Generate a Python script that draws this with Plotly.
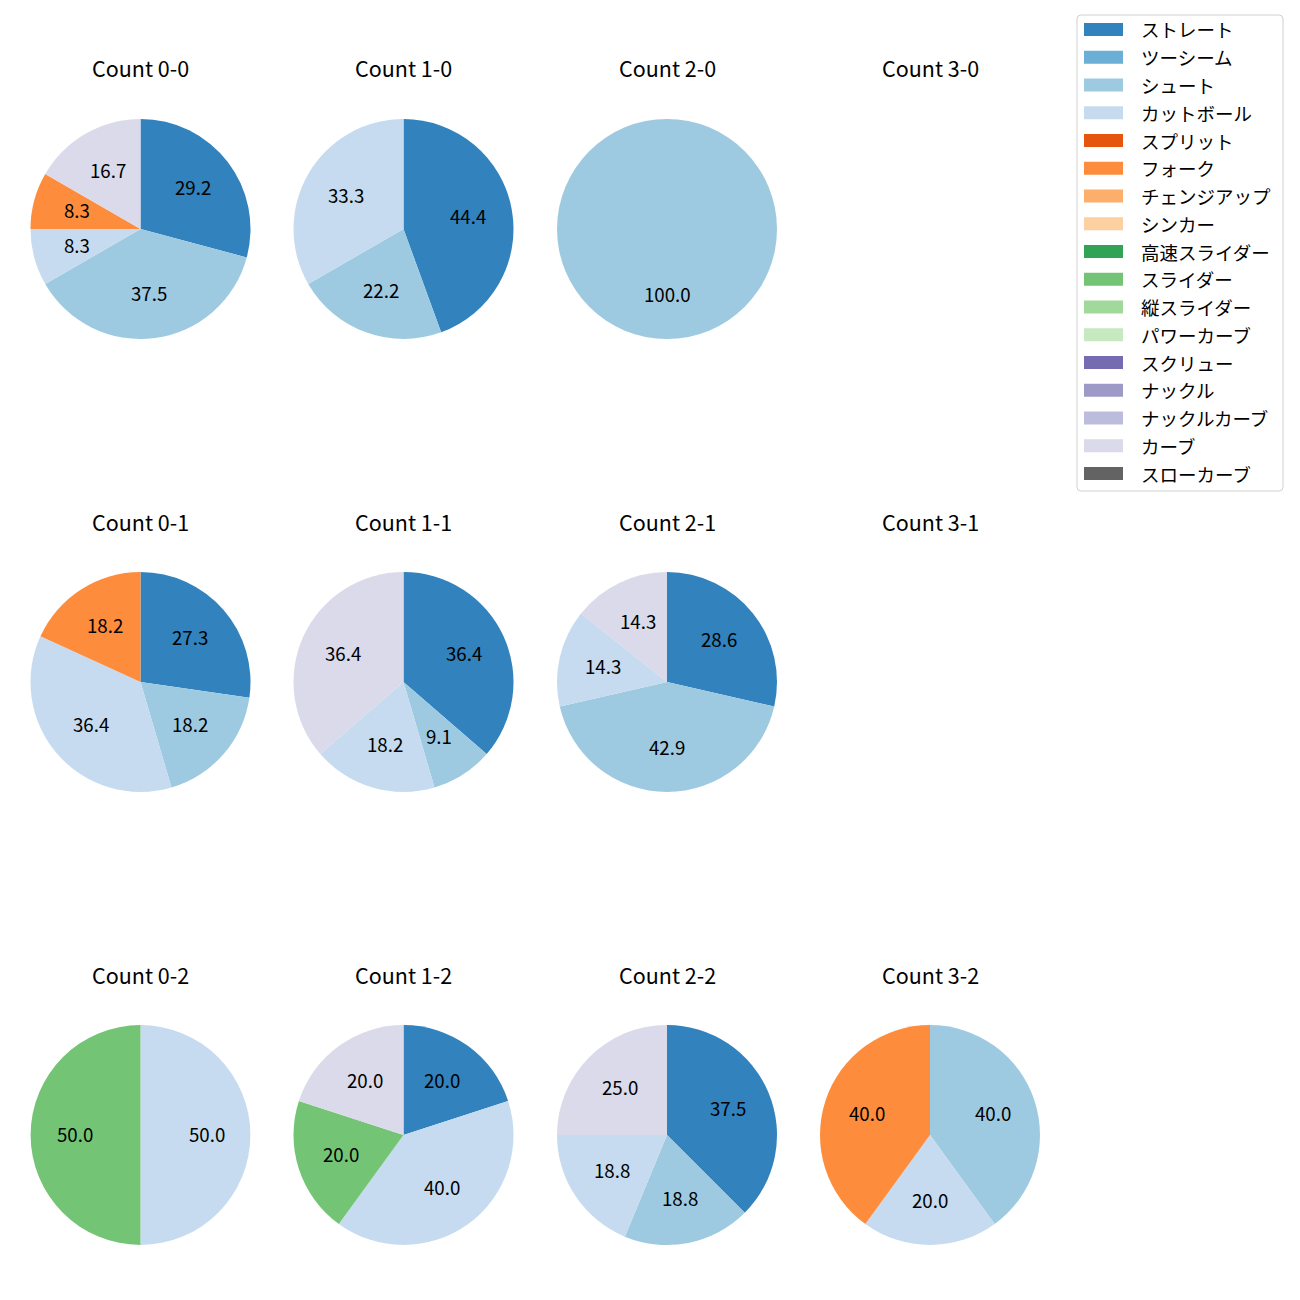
import math
import plotly.graph_objects as go

# ---- data ----
pitch_types = ["ストレート", "ツーシーム", "シュート", "カットボール", "スプリット", "フォーク",
               "チェンジアップ", "シンカー", "高速スライダー", "スライダー", "縦スライダー",
               "パワーカーブ", "スクリュー", "ナックル", "ナックルカーブ", "カーブ", "スローカーブ"]
pitch_colors = ["#3182bd", "#6baed6", "#9ecae1", "#c6dbef", "#e6550d", "#fd8d3c",
                "#fdae6b", "#fdd0a2", "#31a354", "#74c476", "#a1d99b", "#c7e9c0",
                "#756bb1", "#9e9ac8", "#bcbddc", "#dadaeb", "#636363"]

count_labels = ["0-0", "1-0", "2-0", "3-0",
                "0-1", "1-1", "2-1", "3-1",
                "0-2", "1-2", "2-2", "3-2"]

#            St Tw Sh Cu Sp Fo Ch Si HS Sl VS PC Sc Kn KC Cv SC
vals_0_0 = [7, 0, 9, 2, 0, 2, 0, 0, 0, 0, 0, 0, 0, 0, 0, 4, 0]
vals_1_0 = [4, 0, 2, 3, 0, 0, 0, 0, 0, 0, 0, 0, 0, 0, 0, 0, 0]
vals_2_0 = [0, 0, 1, 0, 0, 0, 0, 0, 0, 0, 0, 0, 0, 0, 0, 0, 0]
vals_3_0 = [0, 0, 0, 0, 0, 0, 0, 0, 0, 0, 0, 0, 0, 0, 0, 0, 0]
vals_0_1 = [3, 0, 2, 4, 0, 2, 0, 0, 0, 0, 0, 0, 0, 0, 0, 0, 0]
vals_1_1 = [4, 0, 1, 2, 0, 0, 0, 0, 0, 0, 0, 0, 0, 0, 0, 4, 0]
vals_2_1 = [2, 0, 3, 1, 0, 0, 0, 0, 0, 0, 0, 0, 0, 0, 0, 1, 0]
vals_3_1 = [0, 0, 0, 0, 0, 0, 0, 0, 0, 0, 0, 0, 0, 0, 0, 0, 0]
vals_0_2 = [0, 0, 0, 1, 0, 0, 0, 0, 0, 1, 0, 0, 0, 0, 0, 0, 0]
vals_1_2 = [1, 0, 0, 2, 0, 0, 0, 0, 0, 1, 0, 0, 0, 0, 0, 1, 0]
vals_2_2 = [6, 0, 3, 3, 0, 0, 0, 0, 0, 0, 0, 0, 0, 0, 0, 4, 0]
vals_3_2 = [0, 0, 2, 1, 0, 2, 0, 0, 0, 0, 0, 0, 0, 0, 0, 0, 0]

all_vals = [vals_0_0, vals_1_0, vals_2_0, vals_3_0,
            vals_0_1, vals_1_1, vals_2_1, vals_3_1,
            vals_0_2, vals_1_2, vals_2_2, vals_3_2]

# ---- layout ----
W = H = 1300
FONT = "Noto Sans CJK JP"
col_cx = [140.5, 403.5, 667, 930]
row_cy = [229, 682, 1135]
R = 110

fig = go.Figure()
annotations = []
shapes = []

def px(x):
    return x / W

def py(y):
    return 1 - y / H

for i, (lab, vals) in enumerate(zip(count_labels, all_vals)):
    r, c = divmod(i, 4)
    cx, cy = col_cx[c], row_cy[r]
    annotations.append(dict(x=px(cx), y=py(cy - 161), xref="paper", yref="paper",
                            text=f"Count {lab}", showarrow=False,
                            font=dict(family=FONT, size=21.5, color="black"),
                            xanchor="center", yanchor="middle"))
    total = sum(vals)
    if total == 0:
        continue
    idx = [k for k, v in enumerate(vals) if v > 0]
    fig.add_trace(go.Pie(
        labels=[pitch_types[k] for k in idx],
        values=[vals[k] for k in idx],
        marker=dict(colors=[pitch_colors[k] for k in idx], line=dict(width=0)),
        sort=False, direction="clockwise", rotation=0,
        textinfo="none", showlegend=False,
        domain=dict(x=[px(cx - R), px(cx + R)], y=[py(cy + R), py(cy - R)]),
    ))
    # percentage labels at 0.6 radius (matplotlib style)
    cum = 0
    for k in idx:
        frac = vals[k] / total
        mid = 90 - (cum + frac / 2) * 360
        cum += frac
        lx = cx + 0.6 * R * math.cos(math.radians(mid))
        ly = cy - 0.6 * R * math.sin(math.radians(mid))
        annotations.append(dict(x=px(lx), y=py(ly - 2), xref="paper", yref="paper",
                                text=f"{frac*100:.1f}", showarrow=False,
                                font=dict(family=FONT, size=18.7, color="black"),
                                xanchor="center", yanchor="middle"))

# ---- legend (matplotlib style box) ----
lx0, lx1, ly0, ly1, rad = 1077, 1283, 15, 491, 4
path = (f"M {px(lx0+rad)},{py(ly0)} L {px(lx1-rad)},{py(ly0)} "
        f"Q {px(lx1)},{py(ly0)} {px(lx1)},{py(ly0+rad)} "
        f"L {px(lx1)},{py(ly1-rad)} Q {px(lx1)},{py(ly1)} {px(lx1-rad)},{py(ly1)} "
        f"L {px(lx0+rad)},{py(ly1)} Q {px(lx0)},{py(ly1)} {px(lx0)},{py(ly1-rad)} "
        f"L {px(lx0)},{py(ly0+rad)} Q {px(lx0)},{py(ly0)} {px(lx0+rad)},{py(ly0)} Z")
shapes.append(dict(type="path", path=path, xref="paper", yref="paper",
                   line=dict(color="#d0d0d0", width=1), fillcolor="rgba(255,255,255,0.8)"))
row_h = 27.75
for k, (name, color) in enumerate(zip(pitch_types, pitch_colors)):
    yc = 29.5 + k * row_h
    shapes.append(dict(type="rect", xref="paper", yref="paper",
                       x0=px(1084), x1=px(1123), y0=py(yc - 6.5), y1=py(yc + 6.5),
                       line=dict(width=0), fillcolor=color))
    annotations.append(dict(x=px(1139), y=py(yc), xref="paper", yref="paper",
                            text=name, showarrow=False,
                            font=dict(family=FONT, size=18.5, color="black"),
                            xanchor="left", yanchor="middle"))

fig.update_layout(
    width=W, height=H, autosize=False,
    margin=dict(l=0, r=0, t=0, b=0),
    paper_bgcolor="white", plot_bgcolor="white",
    annotations=annotations, shapes=shapes,
    showlegend=False,
    font=dict(family=FONT),
)

fig.write_html("out.html")
